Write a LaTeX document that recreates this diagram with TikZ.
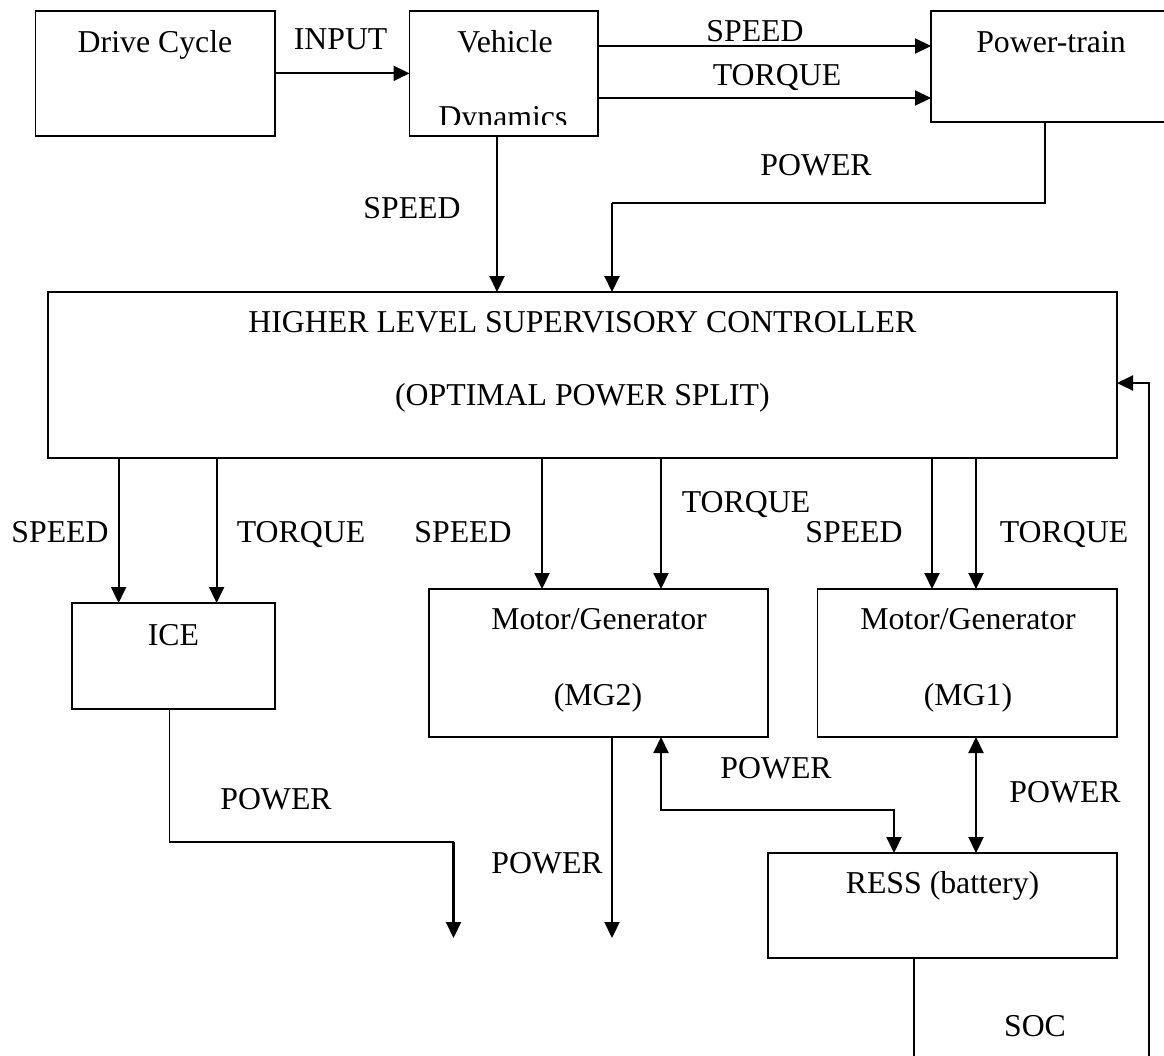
\documentclass[tikz,border=0pt]{standalone}
\usepackage{fontspec}
\setmainfont{Liberation Serif}
\usetikzlibrary{arrows.meta}
\begin{document}
\begin{tikzpicture}[x=1pt,y=-1pt,
  box/.style={draw, line width=1.7pt, inner sep=0pt, outer sep=0pt},
  lbl/.style={font=\fontsize{31.8}{38}\selectfont, anchor=base, inner sep=0pt},
  arr/.style={line width=2.1pt, -{Triangle[length=16pt,width=15pt]}},
  dbl/.style={line width=2.1pt, {Triangle[length=16pt,width=15pt]}-{Triangle[length=16pt,width=15pt]}},
  wire/.style={line width=1.6pt}]
\useasboundingbox (0,0) rectangle (1164,1055);
\fill[white] (0,0) rectangle (1164,1055);

% boxes
\node[box, minimum width=239.4pt, minimum height=125.3pt] (dc) at (155.3,73.35) {};
\node[box, minimum width=188.5pt, minimum height=125.3pt] (vd) at (503.75,73.35) {};
\node[box, minimum width=239pt, minimum height=111.3pt] (pt) at (1050.5,66.35) {};
\node[box, minimum width=1069.2pt, minimum height=166pt] (ctl) at (582.4,375) {};
\node[box, minimum width=203pt, minimum height=106pt] (ice) at (173.5,656) {};
\node[box, minimum width=339pt, minimum height=148pt] (mg2) at (598.5,663) {};
\node[box, minimum width=299.4pt, minimum height=148pt] (mg1) at (967.3,663) {};
\node[box, minimum width=349pt, minimum height=105pt] (ress) at (942.5,905.5) {};

% box texts
\node[lbl] (tdc) at (155,52.5) {Drive Cycle};
\node[lbl] (tvd1) at (505,52.5) {Vehicle};
\begin{scope}
\clip (410,10) rectangle (598,124.5);
\node[lbl] (tvd2) at (503,127) {Dynamics};
\end{scope}
\node[lbl] (tpt) at (1051,52) {Power-train};
\node[lbl] (tctl1) at (582.4,332) {HIGHER LEVEL SUPERVISORY CONTROLLER};
\node[lbl] (tctl2) at (582.4,405) {(OPTIMAL POWER SPLIT)};
\node[lbl] (tice) at (173.5,645) {ICE};
\node[lbl] (tmg2a) at (599,629) {Motor/Generator};
\node[lbl] (tmg2b) at (598,705) {(MG2)};
\node[lbl] (tmg1a) at (968,629) {Motor/Generator};
\node[lbl] (tmg1b) at (968,705) {(MG1)};
\node[lbl] (tress) at (942.5,893) {RESS (battery)};

% connector labels
\node[lbl] (linput) at (340.6,49.5) {INPUT};
\node[lbl] (lspt) at (755,41) {SPEED};
\node[lbl] (ltpt) at (777,85) {TORQUE};
\node[lbl] (lppt) at (816,175) {POWER};
\node[lbl] (lsvd) at (412,218) {SPEED};
\node[lbl] (lsice) at (60,542) {SPEED};
\node[lbl] (ltice) at (301,542) {TORQUE};
\node[lbl] (lsmg2) at (463,542) {SPEED};
\node[lbl] (ltmg2) at (746,512) {TORQUE};
\node[lbl] (lsmg1) at (854,542) {SPEED};
\node[lbl] (ltmg1) at (1064,542) {TORQUE};
\node[lbl] (lpice) at (276,809) {POWER};
\node[lbl] (lpmg2) at (547,873) {POWER};
\node[lbl] (lpmr) at (776,778) {POWER};
\node[lbl] (lpmg1) at (1065,802) {POWER};
\node[lbl] (lsoc) at (1035,1036) {SOC};

% helper coordinates
\coordinate (y46) at (0,46);
\coordinate (y98) at (0,98);
\coordinate (y383) at (0,383);
\coordinate (x497) at (497,0);
\coordinate (p1) at (1045,0);
\coordinate (p2) at (612,203);
\coordinate (xa) at (118.6,0);
\coordinate (xb) at (216.6,0);
\coordinate (xc) at (542,0);
\coordinate (xd) at (661,0);
\coordinate (xe) at (932,0);
\coordinate (xf) at (976,0);
\coordinate (xg) at (169.5,0);
\coordinate (q1) at (453.5,842);
\coordinate (e1) at (453.5,938);
\coordinate (xh) at (612,0);
\coordinate (e2) at (612,938);
\coordinate (q2) at (894,810);
\coordinate (xs) at (914,0);
\coordinate (e3) at (914,1060);
\coordinate (f0) at (1149,1060);

% connectors
\draw[arr] (dc.east) -- (vd.west);
\draw[arr] (vd.east |- y46) -- (pt.west |- y46);
\draw[arr] (vd.east |- y98) -- (pt.west |- y98);
\draw[arr] (vd.south -| x497) -- (ctl.north -| x497);
\draw[wire] (pt.south -| p1) |- (p2);
\draw[arr] (p2) -- (p2 |- ctl.north);
\draw[arr] (ctl.south -| xa) -- (ice.north -| xa);
\draw[arr] (ctl.south -| xb) -- (ice.north -| xb);
\draw[arr] (ctl.south -| xc) -- (mg2.north -| xc);
\draw[arr] (ctl.south -| xd) -- (mg2.north -| xd);
\draw[arr] (ctl.south -| xe) -- (mg1.north -| xe);
\draw[arr] (ctl.south -| xf) -- (mg1.north -| xf);
\draw[wire] (ice.south -| xg) |- (q1);
\draw[arr] (q1) -- (e1);
\draw[arr] (mg2.south -| xh) -- (e2);
\draw[dbl] (mg2.south -| xd) |- (q2) -- (q2 |- ress.north);
\draw[dbl] (mg1.south -| xf) -- (ress.north -| xf);
\draw[wire] (ress.south -| xs) -- (e3);
\draw[arr] (f0) |- (ctl.east |- y383);
\end{tikzpicture}
\end{document}
